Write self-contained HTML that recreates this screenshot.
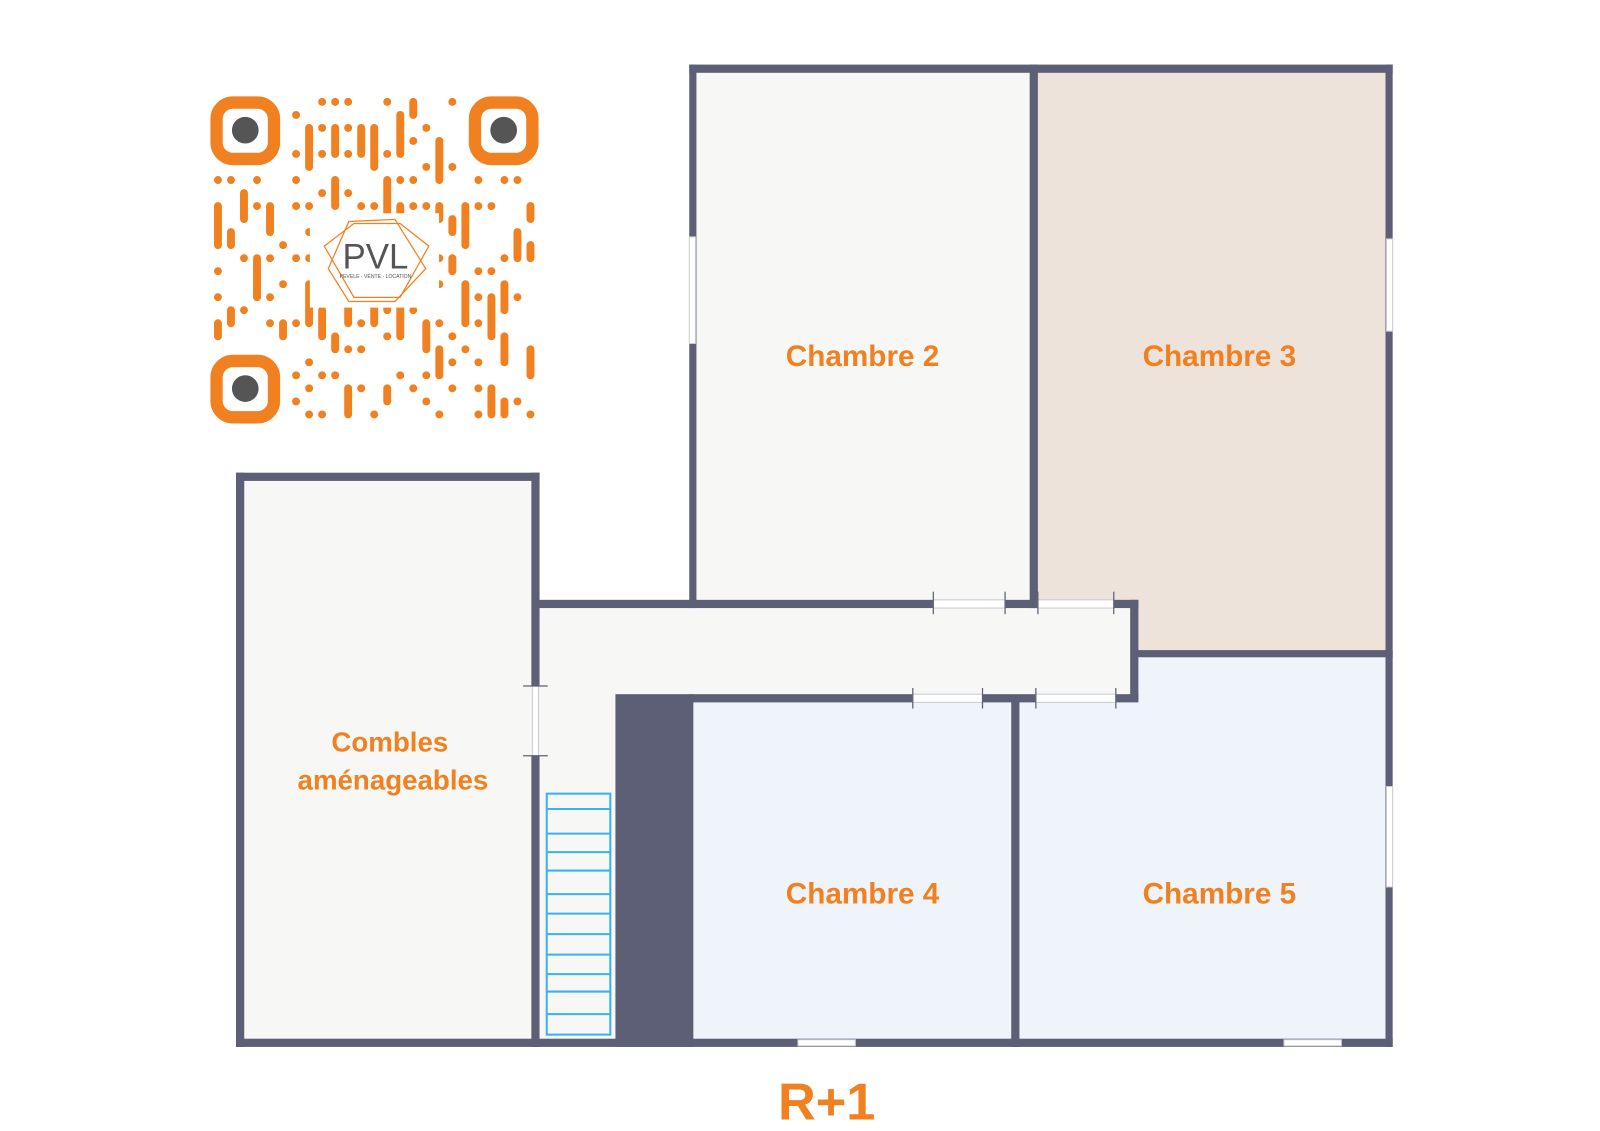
<!DOCTYPE html>
<html><head><meta charset="utf-8"><style>
html,body{margin:0;padding:0;background:#fff;width:1600px;height:1131px;overflow:hidden}
svg{display:block}
text{font-family:"Liberation Sans",sans-serif}
</style></head><body>
<svg id="s" width="1600" height="1131" viewBox="0 0 1560 1103" xmlns="http://www.w3.org/2000/svg">
<rect width="1560" height="1103" fill="#fff"/>
<g transform="translate(-4,-3)">
<!-- floors -->
<rect x="680" y="70" width="330" height="522" fill="#f7f7f5"/>
<rect x="1014" y="72" width="344" height="568" fill="#ede3da"/>
<rect x="240" y="470" width="286" height="550" fill="#f7f7f5"/>
<rect x="526" y="594" width="584" height="90" fill="#f7f7f5"/>
<rect x="526" y="680" width="80" height="340" fill="#f7f7f5"/>
<rect x="680" y="686" width="312" height="334" fill="#eff3fa"/>
<rect x="1112" y="642" width="246" height="46" fill="#eff3fa"/>
<rect x="994" y="686" width="364" height="334" fill="#eff3fa"/>
<!-- dark block -->
<rect x="604" y="680" width="76" height="344" fill="#5c5f75"/>
<g fill="#5c5f75">
<rect x="676" y="66" width="686" height="8"/>
<rect x="676" y="66" width="7" height="530"/>
<rect x="1008" y="66" width="8" height="530"/>
<rect x="1355" y="66" width="7" height="958"/>
<rect x="1110" y="637" width="252" height="7"/>
<rect x="524" y="588" width="590" height="8"/>
<rect x="1106" y="588" width="8" height="98"/>
<rect x="676" y="680" width="438" height="8"/>
<rect x="990" y="682" width="8" height="342"/>
<rect x="234" y="464" width="296" height="8"/>
<rect x="234" y="464" width="8" height="560"/>
<rect x="522" y="464" width="8" height="208"/>
<rect x="522" y="740" width="8" height="284"/>
<rect x="234" y="1016" width="1128" height="8"/>
</g>
<!-- doors/openings -->
<g fill="#fff" stroke="#c8cad4" stroke-width="1">
<rect x="914" y="588" width="70" height="8"/>
<rect x="1016" y="588" width="74" height="8"/>
<rect x="894" y="680" width="68" height="8"/>
<rect x="1014" y="680" width="78" height="8"/>
<rect x="523" y="672" width="6" height="68"/>
<rect x="676" y="234" width="6" height="104"/>
<rect x="1356" y="236" width="6" height="90"/>
<rect x="1356" y="770" width="6" height="98"/>
<rect x="782" y="1017" width="56" height="6"/>
<rect x="1256" y="1017" width="56" height="6"/>
</g>
<g stroke="#5c5f75" stroke-width="1.2">
<line x1="914" y1="580" x2="914" y2="602"/><line x1="984" y1="580" x2="984" y2="602"/>
<line x1="1016" y1="580" x2="1016" y2="602"/><line x1="1090" y1="580" x2="1090" y2="602"/>
<line x1="894" y1="674" x2="894" y2="694"/><line x1="962" y1="674" x2="962" y2="694"/>
<line x1="1014" y1="674" x2="1014" y2="694"/><line x1="1092" y1="674" x2="1092" y2="694"/>
<line x1="514" y1="672" x2="538" y2="672"/><line x1="514" y1="740" x2="538" y2="740"/>
</g>
<!-- stairs -->
<g fill="none" stroke="#3ab0f5" stroke-width="2">
<rect x="537" y="777" width="62" height="235"/>
<line x1="537" y1="792" x2="599" y2="792"/>
<line x1="537" y1="816" x2="599" y2="816"/>
<line x1="537" y1="834" x2="599" y2="834"/>
<line x1="537" y1="852" x2="599" y2="852"/>
<line x1="537" y1="875" x2="599" y2="875"/>
<line x1="537" y1="894" x2="599" y2="894"/>
<line x1="537" y1="914" x2="599" y2="914"/>
<line x1="537" y1="934" x2="599" y2="934"/>
<line x1="537" y1="953" x2="599" y2="953"/>
<line x1="537" y1="970" x2="599" y2="970"/>
<line x1="537" y1="992" x2="599" y2="992"/>
</g>
<!-- labels -->
<g fill="#f08020" font-weight="bold" text-anchor="middle" font-size="29">
<text x="845" y="360">Chambre 2</text>
<text x="1193" y="360">Chambre 3</text>
<text x="845" y="884">Chambre 4</text>
<text x="1193" y="884">Chambre 5</text>
<text x="384" y="736" font-size="27">Combles</text>
<text x="387" y="773" font-size="27">aménageables</text>
<text x="810" y="1095" font-size="51">R+1</text>
</g>
</g>
<!-- QR -->
<g id="qr"></g>
<g fill="none" stroke="#f08020" stroke-width="12">
<rect x="211" y="100" width="56" height="55" rx="16"/>
<rect x="463" y="100" width="56" height="55" rx="16"/>
<rect x="211" y="352" width="56" height="55" rx="16"/>
</g>
<g fill="#555"><circle cx="239" cy="127" r="13"/><circle cx="491" cy="127" r="13"/><circle cx="239" cy="379" r="13"/></g>
<rect x="302" y="208" width="126" height="92" fill="#fff"/>
<g fill="none" stroke="#f08020" stroke-width="1.2">
<polygon points="316,240 345,218 390,218 418,240 390,290 345,290"/>
<polygon points="320,262 340,216 385,214 415,262 385,294 340,294"/>
</g>
<text x="366" y="262" font-family="Liberation Serif,serif" font-size="34" fill="#555" text-anchor="middle">PVL</text>
<text x="366" y="271" font-size="5" fill="#555" text-anchor="middle">PEVELE · VENTE · LOCATION</text>
</svg>
<script>
(function(){
var g=document.getElementById('qr'),ns='http://www.w3.org/2000/svg',seed=11;
function r(){seed=(seed*16807)%2147483647;return seed/2147483647;}
var x0=206,y0=93,m=12.7,n=25;
for(var i=0;i<n;i++){for(var j=0;j<n;j++){
 if((i<6&&j<6)||(i>18&&j<6)||(i<6&&j>18))continue;
 if(r()<0.5){
  var len=r()<0.35?2+Math.floor(r()*3):1;
  if(j+len>n)len=n-j;
  if(i<6&&j<=18&&j+len>19)len=19-j;
  var e=document.createElementNS(ns,'rect');
  e.setAttribute('x',x0+i*m+2.5);e.setAttribute('y',y0+j*m+2.5);
  e.setAttribute('width',m-5);e.setAttribute('height',m*len-5);
  e.setAttribute('rx',3.8);e.setAttribute('fill','#f08020');g.appendChild(e);
  j+=len;
 }}}
})();
</script>
</body></html>
